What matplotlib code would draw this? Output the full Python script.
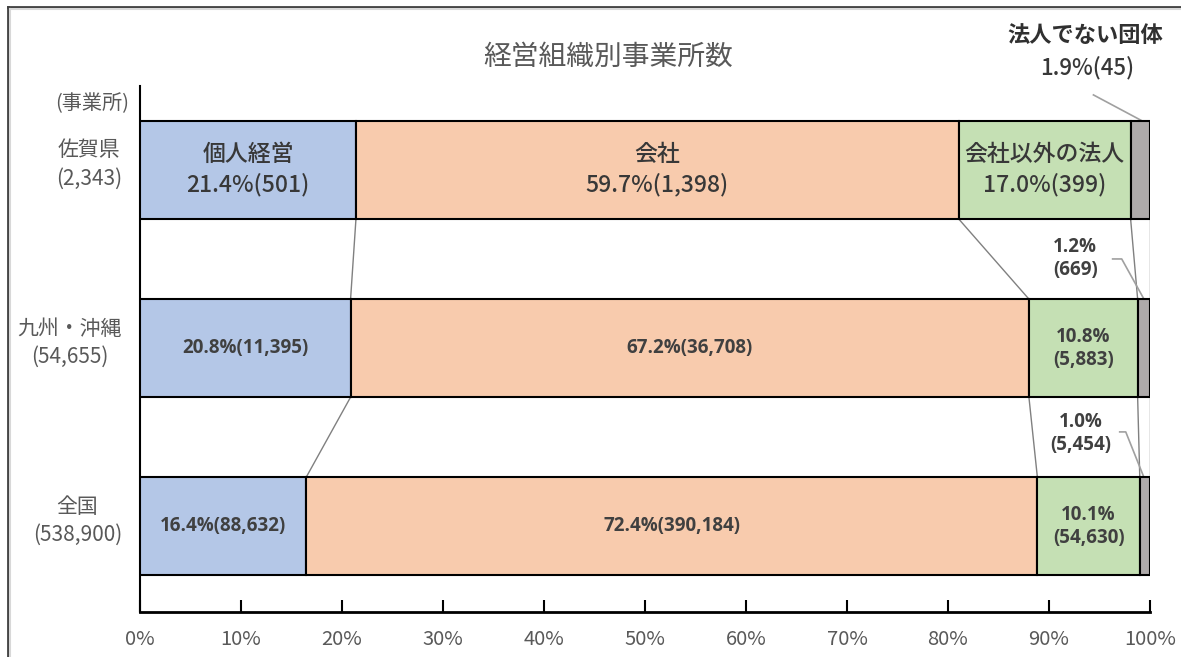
import matplotlib
matplotlib.use('Agg')
import matplotlib.pyplot as plt
from matplotlib.lines import Line2D
import numpy as np

plt.rcParams['font.family'] = ['Noto Sans CJK JP', 'DejaVu Sans']

# ---- data ----
regions = ['佐賀県', '九州・沖縄', '全国']
region_totals = [2343, 54655, 538900]
categories = ['個人経営', '会社', '会社以外の法人', '法人でない団体']
counts_saga = [501, 1398, 399, 45]
counts_kyushu = [11395, 36708, 5883, 669]
counts_zenkoku = [88632, 390184, 54630, 5454]
pct_saga = [21.4, 59.7, 17.0, 1.9]
pct_kyushu = [20.8, 67.2, 10.8, 1.2]
pct_zenkoku = [16.4, 72.4, 10.1, 1.0]
xticks = [0, 10, 20, 30, 40, 50, 60, 70, 80, 90, 100]
xtick_labels = [f'{t}%' for t in xticks]
title = '経営組織別事業所数'
unit_label = '(事業所)'

colors = ['#B4C7E7', '#F8CBAD', '#C5E0B4', '#AEAAAA']
text_dark = '#404040'
text_gray = '#595959'

all_counts = [counts_saga, counts_kyushu, counts_zenkoku]
all_pcts = [pct_saga, pct_kyushu, pct_zenkoku]
ypos = [2, 1, 0]
bar_h = 0.55

fig = plt.figure(figsize=(11.81, 6.57), dpi=100)
ax = fig.add_axes([140 / 1181, 1 - 612 / 657, 1010 / 1181, (612 - 86) / 657])

cums = []
for counts, total, y in zip(all_counts, region_totals, ypos):
    widths = np.array(counts) / total * 100
    lefts = np.concatenate([[0], np.cumsum(widths)[:-1]])
    cums.append(np.concatenate([[0], np.cumsum(widths)]))
    ax.barh(y, widths, left=lefts, height=bar_h, color=colors,
            edgecolor='black', linewidth=1.5, zorder=3)

# connector lines between bars
for i in range(len(ypos) - 1):
    yu = ypos[i] - bar_h / 2
    yl = ypos[i + 1] + bar_h / 2
    for k in range(1, 5):
        ax.plot([cums[i][k], cums[i + 1][k]], [yu, yl], color='#808080',
                lw=1.0, zorder=2)

# 佐賀県 labels
c = cums[0]
jp_sz = 16.5
for k in range(3):
    cx = (c[k] + c[k + 1]) / 2
    ax.text(cx, ypos[0], f'{categories[k]}\n{pct_saga[k]:.1f}%({counts_saga[k]:,})',
            ha='center', va='center', fontsize=jp_sz, color='#383838',
            weight='medium', linespacing=1.35, zorder=5)

# 九州・沖縄, 全国 labels
bold_font = dict(family=['Open Sans', 'DejaVu Sans'], weight='bold', fontsize=13.5,
                 color=text_dark)
for idx in (1, 2):
    c = cums[idx]
    counts = all_counts[idx]
    pcts = all_pcts[idx]
    for k in range(2):
        cx = (c[k] + c[k + 1]) / 2
        ax.text(cx, ypos[idx], f'{pcts[k]:.1f}%({counts[k]:,})', ha='center',
                va='center', zorder=5, **bold_font)
    cx = (c[2] + c[3]) / 2
    ax.text(cx, ypos[idx], f'{pcts[2]:.1f}%\n({counts[2]:,})', ha='center',
            va='center', zorder=5, linespacing=1.2, **bold_font)

# small-segment annotations
ax.text(93.6, 2.756, categories[3], ha='center', va='center', fontsize=16,
        color='#303030', weight='bold', clip_on=False)
ax.text(93.8, 2.571, f'{pct_saga[3]:.1f}%({counts_saga[3]})', ha='center',
        va='center', fontsize=16, color='#383838', weight='medium', clip_on=False)
ax.plot([94.4, 99.2], [2.42, 2.275], color='#A0A0A0', lw=1.2, clip_on=False)

ax.text(92.6, 1.50, f'{pct_kyushu[3]:.1f}%\n({counts_kyushu[3]:,})', ha='center',
        va='center', linespacing=1.2, **bold_font)
ax.plot([96.3, 97.2, 99.4], [1.50, 1.50, 1.275], color='#A0A0A0', lw=1.2)

ax.text(93.1, 0.52, f'{pct_zenkoku[3]:.1f}%\n({counts_zenkoku[3]:,})', ha='center',
        va='center', linespacing=1.2, **bold_font)
ax.plot([97.0, 97.6, 99.4], [0.53, 0.53, 0.275], color='#A0A0A0', lw=1.2)

# region labels
for name, total, y in zip(regions, region_totals, ypos):
    ax.text(-1.78, y + 0.03, f'{name}\n({total:,})', ha='right', va='center',
            multialignment='center', fontsize=15, color=text_gray,
            linespacing=1.35, clip_on=False)
ax.text(-4.7, 2.37, unit_label, ha='center', va='center', fontsize=14.5,
        color=text_gray, clip_on=False)

# axes styling
ax.set_xlim(0, 100)
ax.set_ylim(-0.48, 2.47)
ax.set_xticks(xticks)
ax.set_xticklabels(xtick_labels)
ax.set_yticks([])
ax.tick_params(axis='x', direction='in', length=9, width=1.5, pad=12,
               labelsize=14.5, labelcolor=text_gray, color='black')
for s in ('top', 'right'):
    ax.spines[s].set_visible(False)
ax.spines['left'].set_linewidth(1.5)
ax.spines['bottom'].set_linewidth(2)

fig.text(608 / 1181, 1 - 57 / 657, title, ha='center', va='center', fontsize=20,
         color=text_gray)

# outer frame (left and top edges)
fig.add_artist(Line2D([7.5 / 1181, 7.5 / 1181], [0, 1 - 6.5 / 657],
                      transform=fig.transFigure, color='#404040', lw=2))
fig.add_artist(Line2D([7.5 / 1181, 1], [1 - 6.5 / 657, 1 - 6.5 / 657],
                      transform=fig.transFigure, color='#404040', lw=2))
fig.add_artist(Line2D([10 / 1181, 10 / 1181], [0, 1 - 9 / 657],
                      transform=fig.transFigure, color='#D8D8D8', lw=1.5))
fig.add_artist(Line2D([10 / 1181, 1], [1 - 9 / 657, 1 - 9 / 657],
                      transform=fig.transFigure, color='#D8D8D8', lw=1.5))

fig.savefig('out.png', dpi=100)
